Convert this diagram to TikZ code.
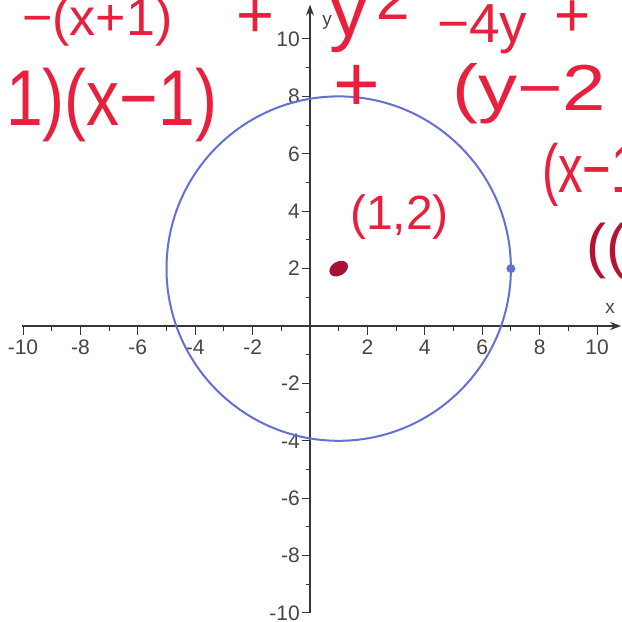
\documentclass[tikz,border=0pt]{standalone}
\usepackage{fontspec}
\setmainfont{Liberation Sans}
\usetikzlibrary{arrows.meta}
\definecolor{axisgray}{RGB}{55,55,55}
\definecolor{labgray}{RGB}{70,70,70}
\definecolor{circblue}{RGB}{100,112,212}
\definecolor{hand}{RGB}{232,32,62}
\definecolor{handdark}{RGB}{180,20,50}
\definecolor{dotred}{RGB}{168,18,52}
\tikzset{
  axisline/.style={draw=axisgray,line width=1.3pt},
  tlab/.style={text=labgray,inner sep=0pt,font=\fontsize{21}{21}\selectfont},
  hw/.style={text=hand,inner sep=0pt,anchor=base west},
}
\newcommand{\hwf}[1]{\fontsize{#1}{#1}\selectfont}
\begin{document}
\begin{tikzpicture}[x=1pt,y=1pt]
\useasboundingbox (0,0) rectangle (622,622);
\clip (0,0) rectangle (622,622);
\fill[white] (0,0) rectangle (622,622);
\begin{scope}[shift={(310pt,296pt)},x=28.7pt,y=28.7pt]
  \coordinate (xs) at (-10.03,0);
  \coordinate (xe) at (10.84,0);
  \coordinate (ys) at (0,-10);
  \coordinate (ye) at (0,11.2);
  \draw[axisline,-{Stealth[length=11pt,width=8pt]}] (xs) -- (xe);
  \draw[axisline,-{Stealth[length=11pt,width=8pt]}] (ys) -- (ye);
  \foreach \i in {-10,-8,...,10}{
    \ifnum\i=0\else
      \draw[axisline,line width=1pt] (\i,0) -- ++(0,-9pt);
      \draw[axisline,line width=1pt] (0,\i) -- ++(-8pt,0);
      \node[tlab,anchor=north] (xl\i) at ([yshift=-14pt]\i,0) {\i};
      \node[tlab,anchor=east] (yl\i) at ([xshift=-10pt]0,\i) {\i};
    \fi}
  \foreach \i in {-9,-7,...,9}{
    \draw[axisline,line width=1pt] (\i,0) -- ++(0,-5pt);
    \draw[axisline,line width=1pt] (0,\i) -- ++(-4pt,0);}
  \coordinate (C) at (1,2);
  \coordinate (P) at (7,2);
  \draw[circblue,line width=2pt] (C) circle (6);
  \fill[circblue] (P) circle (4.5pt);
  \fill[dotred,rotate around={30:(C)}] (C) ellipse [x radius=10pt,y radius=7pt];
\end{scope}
\node[tlab,anchor=center,font=\fontsize{19}{19}\selectfont] (xlab) at (610,314) {x};
\node[tlab,anchor=center,font=\fontsize{19}{19}\selectfont] (ylab) at (327,600) {y};
% handwriting
\node[hw,font=\hwf{52}] (h1) at (22,586) {−(x+1)};
\node[hw,font=\hwf{65}] (h2) at (236,584) {+};
\node[hw,font=\hwf{78}] (h3) at (329,585) {y};
\node[hw,font=\hwf{60}] (h4) at (376,602) {2};
\node[hw,font=\hwf{55}] (h5) at (437,579) {−4y};
\node[hw,font=\hwf{62}] (h6) at (554,585) {+};
\node[hw,font=\hwf{66}] (h7) at (6,496) {\scalebox{1}[1.2]{1)(x−1)}};
\node[hw,font=\hwf{80}] (h8) at (333,510) {+};
\node[hw,font=\hwf{65}] (h9) at (452,511) {\scalebox{1.2}[1]{(y−2}};
\node[hw,font=\hwf{48}] (h10) at (350,392) {(1,2)};
\node[hw,font=\hwf{68}] (h11) at (542,429) {\scalebox{0.72}[1]{(x−1)}};
\node[hw,text=handdark,font=\hwf{60}] (h12) at (586,355) {((};
\end{tikzpicture}
\end{document}
